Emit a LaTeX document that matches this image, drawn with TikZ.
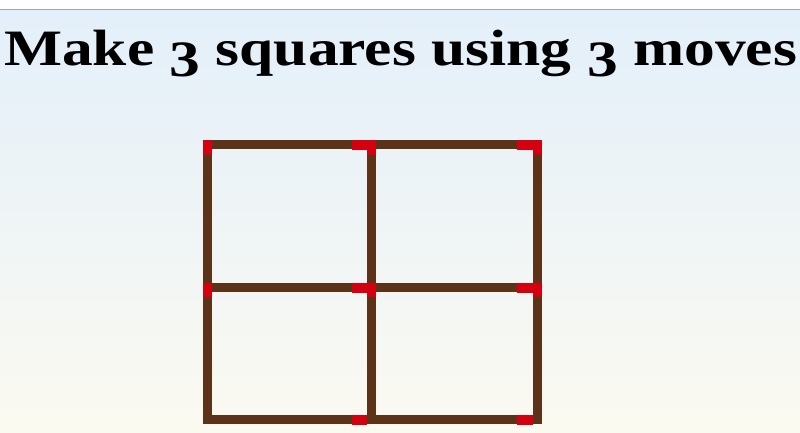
\documentclass[tikz,border=0pt]{standalone}
\usepackage{fontspec}
\setmainfont{Liberation Serif}
\definecolor{stickbrown}{RGB}{92,50,24}
\definecolor{headred}{RGB}{212,0,16}
\definecolor{bgtop}{RGB}{227,239,250}
\definecolor{bgbot}{RGB}{251,250,241}
\definecolor{rulegray}{RGB}{165,165,165}
\tikzset{
  stick/.style={fill=stickbrown},
  head/.style={fill=headred},
  titletext/.style={anchor=base west, inner sep=0pt, font=\fontsize{51}{56}\selectfont\bfseries}
}
\newcommand{\osthree}{\raisebox{-11pt}{3}}
\begin{document}
\begin{tikzpicture}[x=1pt,y=-1pt]
\useasboundingbox (0,0) rectangle (800,432);
\fill[white] (0,0) rectangle (800,9.5);
\shade[top color=bgtop, bottom color=bgbot] (0,9.5) rectangle (800,432);
\draw[rulegray, line width=0.8pt] (0,9.5) -- (800,9.5);
\node[titletext] (title) at (4,65) {\scalebox{1.205}[1]{Make \osthree{} squares using \osthree{} moves}};
% vertical sticks (head at top)
\foreach \x in {202.5,367,532.5}{
  \fill[stick] (\x,140) rectangle ++(9,143);
  \fill[head]  (\x,140) rectangle ++(9,15);
  \fill[stick] (\x,283) rectangle ++(9,140.5);
  \fill[head]  (\x,283) rectangle ++(9,14);
}
% horizontal sticks (head at right)
\foreach \y in {140,283,415}{
  \fill[stick] (211.5,\y) rectangle (367,\y+9);
  \fill[head]  (352,\y-0.5) rectangle (367,\y+9.5);
  \fill[stick] (376,\y) rectangle (532.5,\y+9);
  \fill[head]  (517,\y-0.5) rectangle (532.5,\y+9.5);
}
\end{tikzpicture}
\end{document}
